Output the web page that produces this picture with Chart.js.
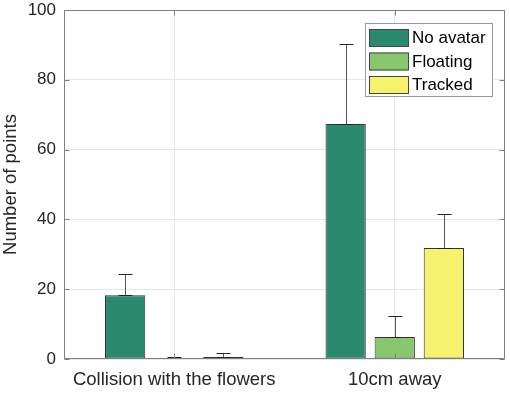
<!DOCTYPE html>
<html>
<head>
<meta charset="utf-8">
<script src="https://cdn.jsdelivr.net/npm/chart.js@4"></script>
<style>
  html, body { margin: 0; padding: 0; background: #fff; }
  #wrap { width: 510px; height: 393px; }
</style>
</head>
<body>
<div id="wrap"><canvas id="pointsChart"></canvas></div>
<script>
// Data
const categories = ['Collision with the flowers', '10cm away'];
const seriesNames = ['No avatar', 'Floating', 'Tracked'];
const noAvatar = [18.3, 67.3];
const floating = [0.3, 6.3];
const tracked = [0.6, 31.8];
const noAvatarErr = [6.1, 23.0];
const floatingErr = [0.3, 6.0];
const trackedErr = [1.1, 9.7];
const yTicks = [0, 20, 40, 60, 80, 100];

const colors = ['#2b8a6e', '#88c76f', '#f7f26e'];
const fontFamily = '"Liberation Sans", Arial, Helvetica, sans-serif';

// error bars drawn upward from the top of each bar
const errorBars = {
    id: 'errorBars',
    afterDatasetsDraw(chart) {
        const ctx = chart.ctx;
        const y = chart.scales.y;
        ctx.save();
        ctx.lineWidth = 1;
        chart.data.datasets.forEach((ds, i) => {
            const meta = chart.getDatasetMeta(i);
            meta.data.forEach((bar, j) => {
                const top = y.getPixelForValue(ds.data[j] + ds.err[j]);
                const base = bar.y;
                const x = Math.round(bar.x) + 0.5;
                ctx.strokeStyle = '#555';
                ctx.beginPath();
                ctx.moveTo(x, base);
                ctx.lineTo(x, top);
                ctx.stroke();
                ctx.strokeStyle = '#222';
                ctx.beginPath();
                ctx.moveTo(x - 7, Math.round(top) + 0.5);
                ctx.lineTo(x + 7, Math.round(top) + 0.5);
                ctx.moveTo(x - 7, Math.round(base) + 0.5);
                ctx.lineTo(x + 7, Math.round(base) + 0.5);
                ctx.stroke();
            });
        });
        ctx.restore();
    }
};

// box round the axes, inward ticks, and legend box
const axesBox = {
    id: 'axesBox',
    afterDraw(chart) {
        const ctx = chart.ctx;
        const a = chart.chartArea;
        const x = chart.scales.x, y = chart.scales.y;
        const L = Math.round(a.left) + 0.5, R = Math.round(a.right) - 0.5;
        const T = Math.round(a.top) + 0.5, B = Math.round(a.bottom) - 0.5;
        ctx.save();
        ctx.strokeStyle = '#808080';
        ctx.lineWidth = 1;
        ctx.strokeRect(L, T, R - L, B - T);
        ctx.beginPath();
        yTicks.forEach(v => {
            const py = Math.round(y.getPixelForValue(v)) + 0.5;
            ctx.moveTo(L, py); ctx.lineTo(L + 5, py);
            ctx.moveTo(R, py); ctx.lineTo(R - 5, py);
        });
        categories.forEach((c, i) => {
            const px = Math.round(x.getPixelForValue(i)) + 0.5;
            ctx.moveTo(px, B); ctx.lineTo(px, B - 5);
            ctx.moveTo(px, T); ctx.lineTo(px, T + 5);
        });
        ctx.stroke();

        // legend
        const lx = 365.5, ly = 23.5, lw = 127, lh = 73;
        ctx.fillStyle = '#fff';
        ctx.fillRect(lx, ly, lw, lh);
        ctx.strokeStyle = '#9a9a9a';
        ctx.strokeRect(lx, ly, lw, lh);
        ctx.font = '17px ' + fontFamily;
        ctx.textBaseline = 'middle';
        chart.data.datasets.forEach((ds, i) => {
            const ry = 29 + i * 23.5;
            ctx.fillStyle = ds.backgroundColor;
            ctx.fillRect(369, ry, 40, 18);
            ctx.strokeStyle = '#444';
            ctx.strokeRect(369.5, ry + 0.5, 39, 17);
            ctx.fillStyle = '#000';
            ctx.fillText(ds.label, 412, ry + 9.5);
        });
        ctx.restore();
    }
};

const seriesValues = [noAvatar, floating, tracked];
const seriesErrs = [noAvatarErr, floatingErr, trackedErr];

new Chart(document.getElementById('pointsChart'), {
    type: 'bar',
    data: {
        labels: categories,
        datasets: seriesNames.map((name, i) => ({
            label: name,
            data: seriesValues[i],
            err: seriesErrs[i],
            backgroundColor: colors[i],
            borderColor: '#333',
            borderWidth: 1,
            borderSkipped: false,
            categoryPercentage: 0.668,
            barPercentage: 0.82
        }))
    },
    options: {
        responsive: true,
        maintainAspectRatio: false,
        animation: false,
        layout: { padding: { top: 10, right: 5, left: 0, bottom: 0 } },
        plugins: {
            legend: { display: false },
            tooltip: { enabled: false }
        },
        scales: {
            x: {
                grid: { offset: false, color: '#e6e6e6', drawTicks: false },
                border: { display: false },
                ticks: {
                    color: '#262626',
                    font: { family: fontFamily, size: 18.5 },
                    padding: 10,
                    maxRotation: 0
                },
                afterFit(scale) { scale.height = 34; }
            },
            y: {
                min: 0,
                max: 100,
                afterBuildTicks(scale) { scale.ticks = yTicks.map(v => ({ value: v })); },
                grid: { color: '#e6e6e6', drawTicks: false },
                border: { display: false },
                ticks: {
                    color: '#262626',
                    font: { family: fontFamily, size: 17 },
                    padding: 8
                },
                title: {
                    display: true,
                    text: 'Number of points',
                    color: '#262626',
                    font: { family: fontFamily, size: 18.5 },
                    padding: { top: 0, bottom: 2 }
                },
                afterFit(scale) {
                    scale.width = 64;
                    scale.paddingTop = 0;
                    scale.paddingBottom = 0;
                }
            }
        }
    },
    plugins: [errorBars, axesBox]
});
</script>
</body>
</html>
